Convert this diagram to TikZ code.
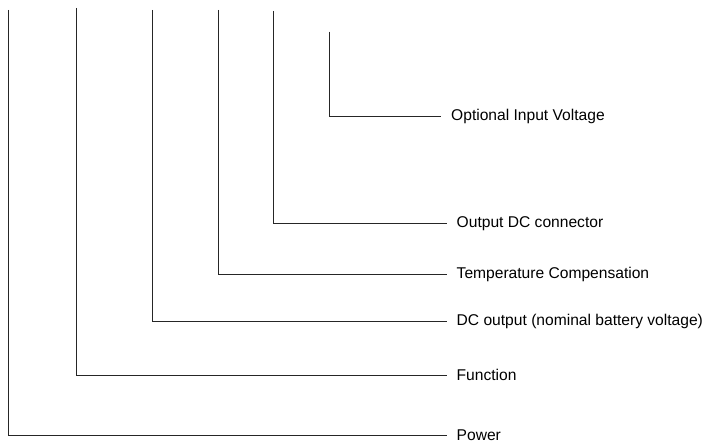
\documentclass[tikz,border=0pt]{standalone}
\usepackage{fontspec}
\setmainfont{Liberation Sans}
\begin{document}
\begin{tikzpicture}[x=1pt,y=-1pt,
  lead/.style={draw=black!85,line width=0.9pt},
  lbl/.style={anchor=west,inner xsep=10pt,inner ysep=0pt,font=\fontsize{15.6}{18}\selectfont,text=black}]
\useasboundingbox (0,0) rectangle (707,443);
% tops of the leads
\coordinate (t1) at (8.5,10);
\coordinate (t2) at (76.7,8);
\coordinate (t3) at (152.3,10);
\coordinate (t4) at (218.7,10);
\coordinate (t5) at (273,11);
\coordinate (t6) at (329.3,31.7);
% labels
\node[lbl] (l6) at (441,116.7) {Optional Input Voltage};
\node[lbl] (l5) at (446.5,223.5) {Output DC connector};
\node[lbl] (l4) at (446.5,274) {Temperature Compensation};
\node[lbl] (l3) at (446.5,321.3) {DC output (nominal battery voltage)};
\node[lbl] (l2) at (446.5,375) {Function};
\node[lbl] (l1) at (446.5,435) {Power};
% leads
\draw[lead] (t1) |- (l1.west);
\draw[lead] (t2) |- (l2.west);
\draw[lead] (t3) |- (l3.west);
\draw[lead] (t4) |- (l4.west);
\draw[lead] (t5) |- (l5.west);
\draw[lead] (t6) |- (l6.west);
\end{tikzpicture}
\end{document}
